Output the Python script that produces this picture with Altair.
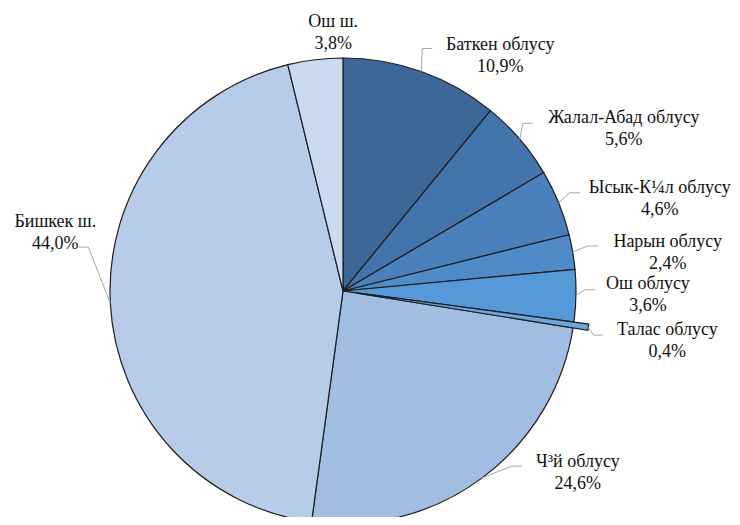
import math
import altair as alt
import pandas as pd

# ---- data ----
regions = ["Баткен облусу", "Жалал-Абад облусу", "Ысык-К¼л облусу", "Нарын облусу",
           "Ош облусу", "Талас облусу", "Ч³й облусу", "Бишкек ш.", "Ош ш."]
shares = [10.9, 5.6, 4.6, 2.4, 3.6, 0.4, 24.6, 44.0, 3.8]
colors = ["#3b6896", "#4374ab", "#4a80bc", "#4f8bc8", "#5699d8", "#6ba6de",
          "#a2bde2", "#b7cce8", "#cbdaee"]
exploded = "Талас облусу"

# ---- layout ----
W, H = 724, 509
CX, CY, R = 335, 283, 233
EXPLODE = 15
FONT = "Liberation Serif, Times New Roman, serif"
FS = 18
LINE_GAP = 11
STUB = 10

# label centre offsets and leader elbow offsets from the slice's outer mid-point
label_nudge = {
    "Баткен облусу": (79, -16),
    "Жалал-Абад облусу": (104, -10),
    "Ысык-К¼л облусу": (101, -4),
    "Нарын облусу": (95, 1),
    "Ош облусу": (72, -1),
    "Талас облусу": (79, 14),
    "Ч³й облусу": (96, -5),
    "Бишкек ш.": (-55, -70),
    "Ош ш.": (18, -27),
}
elbow_nudge = {
    "Баткен облусу": (1, -23),
    "Жалал-Абад облусу": (3, -16),
    "Ысык-К¼л облусу": (11, -10),
    "Нарын облусу": (15, -6),
    "Ош облусу": (9, -6),
    "Талас облусу": (5, 8),
    "Ч³й облусу": (30, -12),
    "Бишкек ш.": (-22, -56),
}

total = sum(shares)
df = pd.DataFrame({"region": regions, "share": shares, "order": list(range(len(regions)))})

# label / leader geometry derived from the shares
lab_rows, seg_rows = [], []
cum = 0.0
for name, v in zip(regions, shares):
    mid = cum + v / 2
    cum += v
    th = mid / total * 2 * math.pi
    r = R + (EXPLODE if name == exploded else 0)
    sx, sy = CX + r * math.sin(th), CY - r * math.cos(th)
    dx, dy = label_nudge[name]
    lx, ly = sx + dx, sy + dy
    lab_rows.append({"name": name, "val": f"{v:.1f}".replace(".", ",") + "%",
                     "lx": lx, "ly1": ly - LINE_GAP, "ly2": ly + LINE_GAP})
    if name in elbow_nudge:
        ex, ey = elbow_nudge[name]
        bx, by = sx + ex, sy + ey
        side = 1 if dx > 0 else -1
        seg_rows.append({"x": sx, "y": sy, "x2": bx, "y2": by})
        seg_rows.append({"x": bx, "y": by, "x2": bx + side * STUB, "y2": by})
labels = pd.DataFrame(lab_rows)
segs = pd.DataFrame(seg_rows)

theta_scale = alt.Scale(domain=[0, total], range=[0, 2 * math.pi])
color_enc = alt.Color("region:N", scale=alt.Scale(domain=regions, range=colors), legend=None)

stacked = alt.Chart(df).transform_stack(
    stack="share", as_=["t0", "t1"], groupby=[], sort=[alt.SortField("order", order="ascending")]
)

pie = stacked.transform_filter(alt.datum.region != exploded).mark_arc(
    radius=R, stroke="#1e1e1e", strokeWidth=1.2
).encode(
    x=alt.value(CX), y=alt.value(CY),
    theta=alt.Theta("t0:Q", scale=theta_scale), theta2="t1:Q",
    color=color_enc,
)

explode = stacked.transform_filter(alt.datum.region == exploded).mark_arc(
    radius=R + EXPLODE, radius2=EXPLODE, stroke="#1e1e1e", strokeWidth=1.2
).encode(
    x=alt.value(CX), y=alt.value(CY),
    theta=alt.Theta("t0:Q", scale=theta_scale), theta2="t1:Q",
    color=color_enc,
)

leaders = alt.Chart(segs).mark_rule(color="#a6a6a6", strokeWidth=1).encode(
    x=alt.X("x:Q", scale=None), y=alt.Y("y:Q", scale=None),
    x2="x2:Q", y2="y2:Q",
)

txt1 = alt.Chart(labels).mark_text(font=FONT, fontSize=FS, color="#111111", baseline="middle").encode(
    x=alt.X("lx:Q", scale=None), y=alt.Y("ly1:Q", scale=None), text="name:N"
)
txt2 = alt.Chart(labels).mark_text(font=FONT, fontSize=FS, color="#111111", baseline="middle").encode(
    x=alt.X("lx:Q", scale=None), y=alt.Y("ly2:Q", scale=None), text="val:N"
)

chart = alt.layer(pie, explode, leaders, txt1, txt2).properties(
    width=W, height=H, autosize="none", padding=0, background="white"
).configure_view(strokeWidth=0)

chart.save("out.html", embed_options={"renderer": "svg", "actions": False})
